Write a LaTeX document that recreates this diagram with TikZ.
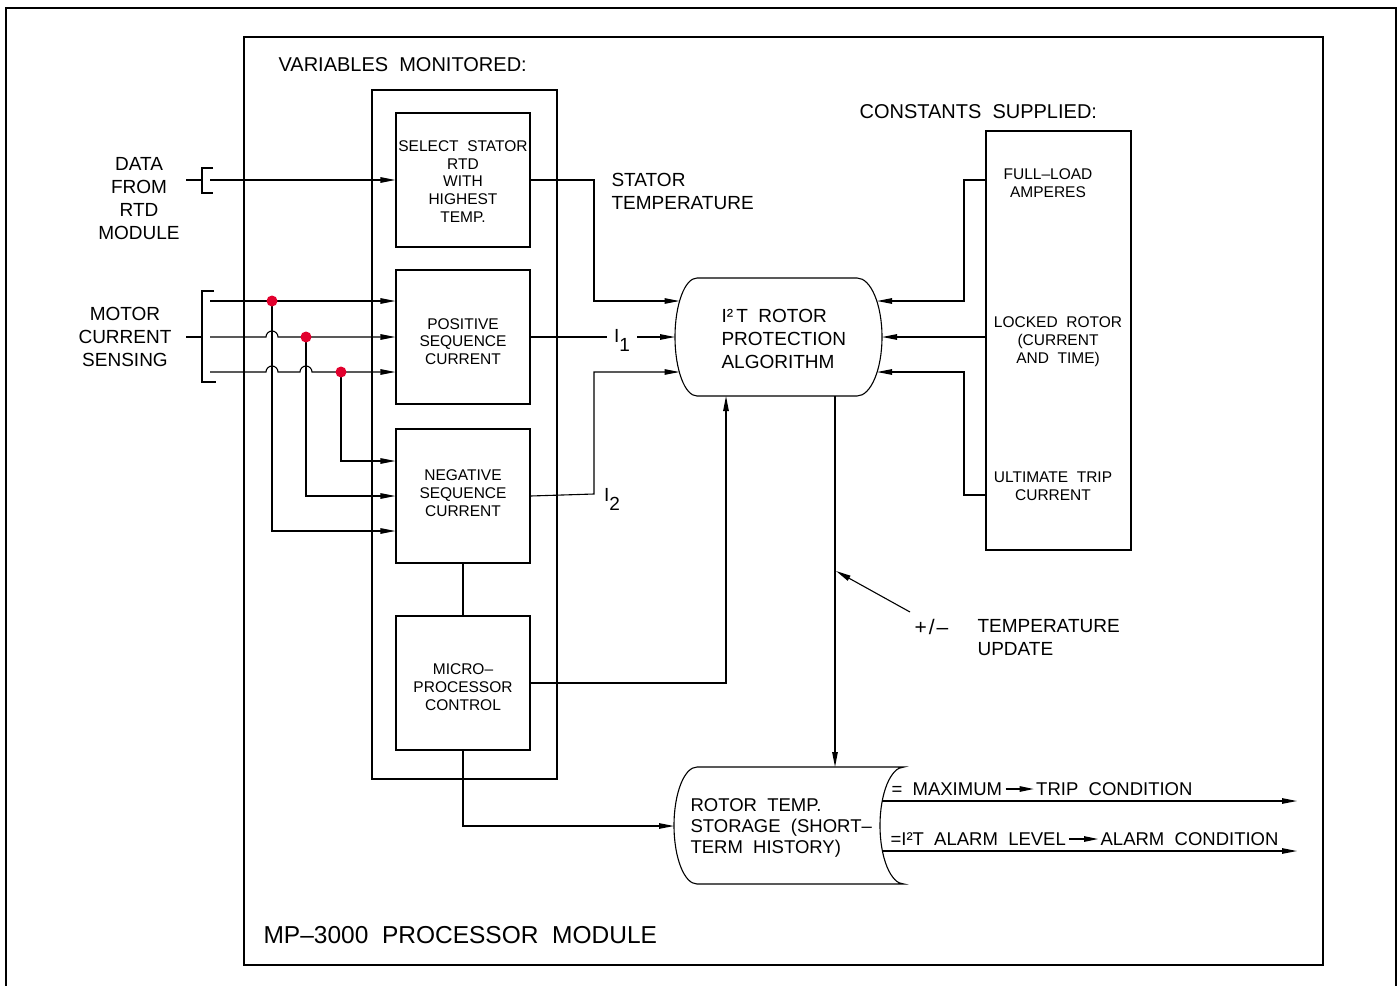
\documentclass[tikz,border=0pt]{standalone}
\usepackage{fontspec}
\setmainfont{Liberation Sans}
\usetikzlibrary{arrows.meta}
\definecolor{dotred}{RGB}{226,0,45}
\begin{document}
\begin{tikzpicture}[x=1pt,y=-1pt,line width=1.1pt,
  arr/.style={-{Triangle[length=15pt,width=5.5pt]}},
  sarr/.style={-{Triangle[length=14pt,width=5.5pt]},shorten <=3pt,shorten >=2pt},
  blk/.style={draw,minimum width=134pt,minimum height=134pt,inner sep=0pt},
  tS/.style={font=\fontsize{15.5}{17.7}\selectfont,align=center,inner sep=0pt},
  tM/.style={font=\fontsize{19}{23}\selectfont,inner sep=0pt},
  tL/.style={font=\fontsize{20}{24}\selectfont,inner sep=0pt},
  tO/.style={font=\fontsize{18.5}{21}\selectfont,inner sep=0pt},
  tX/.style={font=\fontsize{24.5}{28}\selectfont,inner sep=0pt},
  dot/.style={circle,fill=dotred,inner sep=0pt,minimum size=11pt}]
\useasboundingbox (0,0) rectangle (1397,985);
% frames
\draw (6,992) -- (6,8) -- (1396,8) -- (1396,992);
\node[draw,minimum width=1079pt,minimum height=928pt,inner sep=0pt] (module) at (783.5,501) {};
\node[tX,anchor=west] (modlbl) at (263,935) {MP–3000\ \ PROCESSOR\ \ MODULE};
\node[tL,anchor=west] (varlbl) at (278,65) {VARIABLES\ \ MONITORED:};
\node[draw,minimum width=185pt,minimum height=689pt,inner sep=0pt] (varbox) at (464.5,434.5) {};
% blocks
\node[blk] (b1) at (463,180) {};
\node[blk] (b2) at (463,337) {};
\node[blk] (b3) at (463,496) {};
\node[blk] (b4) at (463,683) {};
\node[tS] (b1t) at (463,181.5) {SELECT\ \ STATOR\\RTD\\WITH\\HIGHEST\\TEMP.};
\node[tS] (b2t) at (463,341.5) {POSITIVE\\SEQUENCE\\CURRENT};
\node[tS] (b3t) at (463,493) {NEGATIVE\\SEQUENCE\\CURRENT};
\node[tS] (b4t) at (463,687) {MICRO–\\PROCESSOR\\CONTROL};
\draw (b3.south) -- (b4.north);
% data from RTD
\node[tM,align=center] (rtdlbl) at (139,199) {DATA\\FROM\\RTD\\MODULE};
\draw (186,180) -- (202,180);
\draw (213,168) -- (202,168) -- (202,193) -- (213,193);
\coordinate (rtdin) at (210,180);
\draw[arr] (rtdin) -- (rtdin -| b1.west);
% motor current
\node[tM,align=center] (motlbl) at (125,337) {MOTOR\\CURRENT\\SENSING};
\draw (186,337) -- (202,337);
\draw (214,291) -- (202,291) -- (202,382) -- (216,382);
\coordinate (ph1) at (210,301);
\coordinate (ph2) at (210,337);
\coordinate (ph3) at (210,372);
\draw[arr] (ph1) -- (ph1 -| b2.west);
\draw[arr] (ph2) -- (266,337) arc[start angle=180,end angle=360,radius=6] -- (ph2 -| b2.west);
\draw[arr] (ph3) -- (266,372) arc[start angle=180,end angle=360,radius=6]
   -- (300,372) arc[start angle=180,end angle=360,radius=6] -- (ph3 -| b2.west);
\coordinate (d1) at (272,301);
\coordinate (d2) at (306,337);
\coordinate (d3) at (341,372);
\draw[arr] (d1) |- ([yshift=-35pt]b3.west);
\draw[arr] (d2) |- (b3.west);
\draw[arr] (d3) |- ([yshift=35pt]b3.west);
\node[dot] (dot1) at (d1) {};
\node[dot] (dot2) at (d2) {};
\node[dot] (dot3) at (d3) {};
% algorithm
\node[minimum width=207pt,minimum height=118pt,inner sep=0pt] (alg) at (778.5,337) {};
\draw (697,278) -- (857,278) arc[start angle=270,end angle=450,x radius=25,y radius=59]
  -- (697,396) arc[start angle=90,end angle=270,x radius=22,y radius=59] -- cycle;
\node[tM,anchor=west,align=left] (algtxt) at (721,339) {I²\,T\ \ ROTOR\\PROTECTION\\ALGORITHM};
\coordinate (aL1) at (679.5,301);
\coordinate (aL2) at (675,337);
\coordinate (aL3) at (679.5,372);
\coordinate (aR1) at (877,301);
\coordinate (aR2) at (882,337);
\coordinate (aR3) at (877,372);
\coordinate (aB1) at (726,396);
\coordinate (aB2) at (835,396);
\draw[arr] (b1.east) -- (594,180) |- (aL1);
\node[tM] (stlbl) at (611,191.5) [anchor=west,align=left] {STATOR\\TEMPERATURE};
\node[tM,inner sep=7pt] (i1) at (622,340) {I\raisebox{-9pt}{1}};
\draw (b2.east) -- (b2.east -| i1.west);
\draw[arr] (i1.east |- aL2) -- (aL2);
\draw[arr] (b3.east) -- (594,494) |- (aL3);
\node[tM] (i2) at (612,499) {I\raisebox{-9pt}{2}};
% constants
\node[tL,anchor=west] (conlbl) at (859,112) {CONSTANTS\ \ SUPPLIED:};
\node[draw,minimum width=145pt,minimum height=419pt,inner sep=0pt] (cbox) at (1058.5,340.5) {};
\node[tS] (c1t) at (1048,183) {FULL–LOAD\\AMPERES};
\node[tS] (c2t) at (1058,341.5) {LOCKED\ \ ROTOR\\(CURRENT\\AND\ \ TIME)};
\node[tS] (c3t) at (1053,486.5) {ULTIMATE\ \ TRIP\\CURRENT};
\coordinate (c1) at (986,180);
\coordinate (c2) at (986,337);
\coordinate (c3) at (986,495);
\draw[arr] (c1) -- (964,180) |- (aR1);
\draw[arr] (c2) -- (aR2);
\draw[arr] (c3) -- (964,495) |- (aR3);
% microprocessor to algorithm
\draw[arr] (b4.east) -| (aB1);
% storage
\node[minimum width=231pt,minimum height=117pt,inner sep=0pt] (stor) at (789,825.5) {};
\draw (697,767) -- (904,767) arc[start angle=270,end angle=90,x radius=24,y radius=58.5]
  -- (697,884) arc[start angle=90,end angle=270,x radius=23,y radius=58.5] -- cycle;
\node[tO,anchor=west,align=left] (stortxt) at (690,828) {ROTOR\ \ TEMP.\\STORAGE\ \ (SHORT–\\TERM\ \ HISTORY)};
\coordinate (sT) at (835,767);
\coordinate (sL) at (674,826);
\draw[arr] (aB2) -- (sT);
\draw[arr] (b4.south) |- (sL);
% temperature update
\coordinate (tuS) at (910,612);
\coordinate (tuE) at (836,571);
\draw[arr] (tuS) -- (tuE);
\node[tM,anchor=west,font=\fontsize{21}{23}\selectfont] (pm) at (914,627) {+\hspace{2pt}/\hspace{2pt}–};
\node[tM,anchor=west,align=left] (tu) at (977,638) {TEMPERATURE\\UPDATE};
% outputs
\coordinate (o1s) at (882,801);
\coordinate (o1e) at (1297,801);
\coordinate (o2s) at (882.5,851);
\coordinate (o2e) at (1297,851);
\draw[arr] (o1s) -- (o1e);
\draw[arr] (o2s) -- (o2e);
\node[tO,anchor=west] (mx) at (891,789) {=\ \ MAXIMUM};
\node[tO,anchor=east] (trip) at (1193,789) {TRIP\ \ CONDITION};
\draw[sarr] (mx.east) -- (trip.west);
\node[tO,anchor=west] (al) at (890,839) {=I²T\ \ ALARM\ \ LEVEL};
\node[tO,anchor=east] (alc) at (1279,839) {ALARM\ \ CONDITION};
\draw[sarr] (al.east) -- (alc.west);
\end{tikzpicture}
\end{document}
